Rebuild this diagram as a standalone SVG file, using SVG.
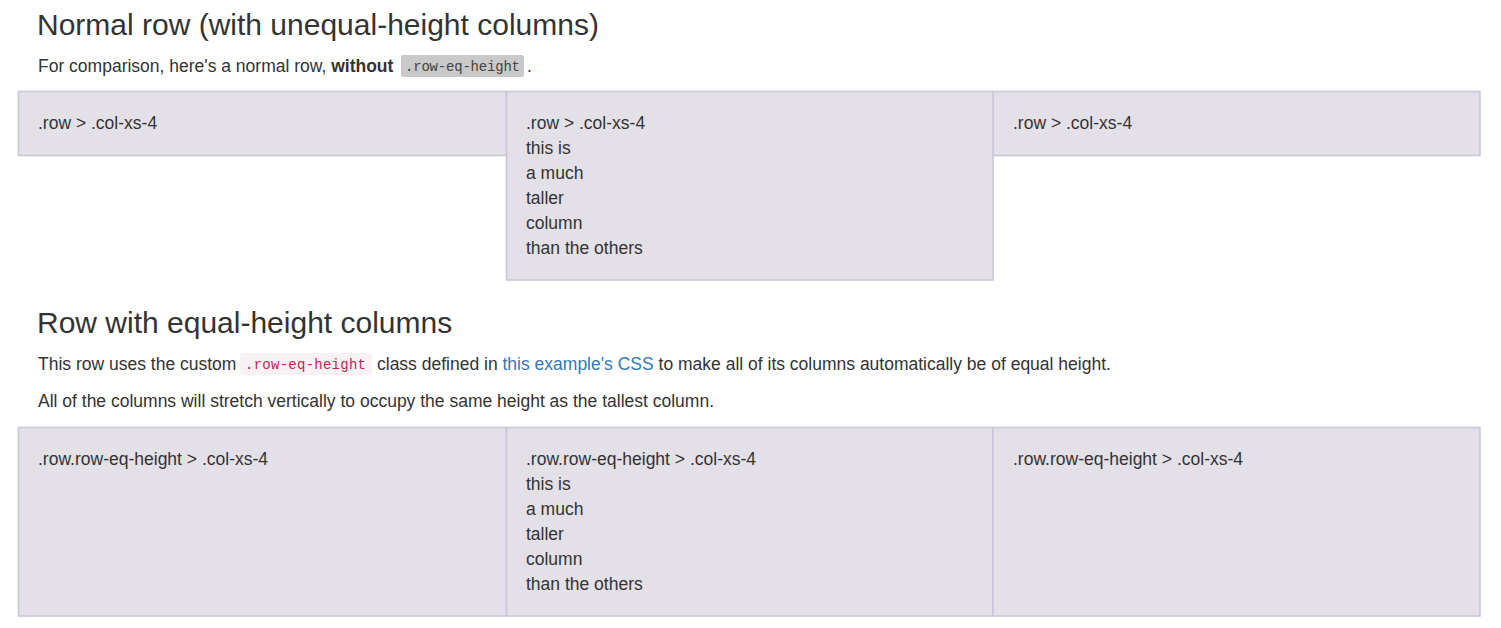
<svg xmlns="http://www.w3.org/2000/svg" width="1501" height="628" viewBox="0 0 1501 628">
<style>
text{font-family:"Liberation Sans",Arial,sans-serif;fill:#333;}
.h{font-size:30px;}
.p{font-size:17.5px;}
.b{font-weight:bold;}
.c{font-family:"Liberation Mono","DejaVu Sans Mono",monospace;font-size:14px;}
.col{fill:#e3e0e8;stroke:#c9c4d8;stroke-width:1.5;}
.link{fill:#337ab7;}
</style>
<rect width="1501" height="628" fill="#fff"/>
<g id="heading1">
<text class="h" x="37" y="35">Normal row (with unequal-height columns)</text>
</g>
<g id="para1">
<text class="p" x="38" y="72">For comparison, here's a normal row, <tspan class="b">without</tspan></text>
<rect x="401" y="55" width="123" height="22" rx="2" fill="#c9c9c9"/>
<text class="c" x="405" y="71" textLength="115" style="fill:#444">.row-eq-height</text>
<text class="p" x="527" y="72">.</text>
</g>
<g id="row1">
<g id="r1c1"><rect class="col" x="18.5" y="91.5" width="488" height="64"/>
<text class="p" x="38" y="129">.row &gt; .col-xs-4</text></g>
<g id="r1c3"><rect class="col" x="993" y="91.5" width="487" height="64"/>
<text class="p" x="1013" y="129">.row &gt; .col-xs-4</text></g>
<g id="r1c2"><rect class="col" x="506.5" y="91.5" width="486.5" height="188.5"/>
<text class="p" x="526" y="129">.row &gt; .col-xs-4</text>
<text class="p" x="526" y="154">this is</text>
<text class="p" x="526" y="179">a much</text>
<text class="p" x="526" y="204">taller</text>
<text class="p" x="526" y="229">column</text>
<text class="p" x="526" y="254">than the others</text></g>
</g>
<g id="heading2">
<text class="h" x="37" y="333">Row with equal-height columns</text>
</g>
<g id="para2">
<text class="p" x="38" y="370">This row uses the custom</text>
<rect x="240" y="353" width="132" height="22" rx="4" fill="#f9f2f4"/>
<text class="c" x="245" y="369" textLength="121" style="fill:#c7254e">.row-eq-height</text>
<text class="p" x="377" y="370">class defined in <tspan class="link">this example's CSS</tspan> to make all of its columns automatically be of equal height.</text>
</g>
<g id="para3">
<text class="p" x="38" y="407">All of the columns will stretch vertically to occupy the same height as the tallest column.</text>
</g>
<g id="row2">
<g id="r2c1"><rect class="col" x="18.5" y="427.5" width="488" height="188.5"/>
<text class="p" x="38" y="465">.row.row-eq-height &gt; .col-xs-4</text></g>
<g id="r2c2"><rect class="col" x="506.5" y="427.5" width="486.5" height="188.5"/>
<text class="p" x="526" y="465">.row.row-eq-height &gt; .col-xs-4</text>
<text class="p" x="526" y="490">this is</text>
<text class="p" x="526" y="515">a much</text>
<text class="p" x="526" y="540">taller</text>
<text class="p" x="526" y="565">column</text>
<text class="p" x="526" y="590">than the others</text></g>
<g id="r2c3"><rect class="col" x="993" y="427.5" width="487" height="188.5"/>
<text class="p" x="1013" y="465">.row.row-eq-height &gt; .col-xs-4</text></g>
</g>
</svg>
